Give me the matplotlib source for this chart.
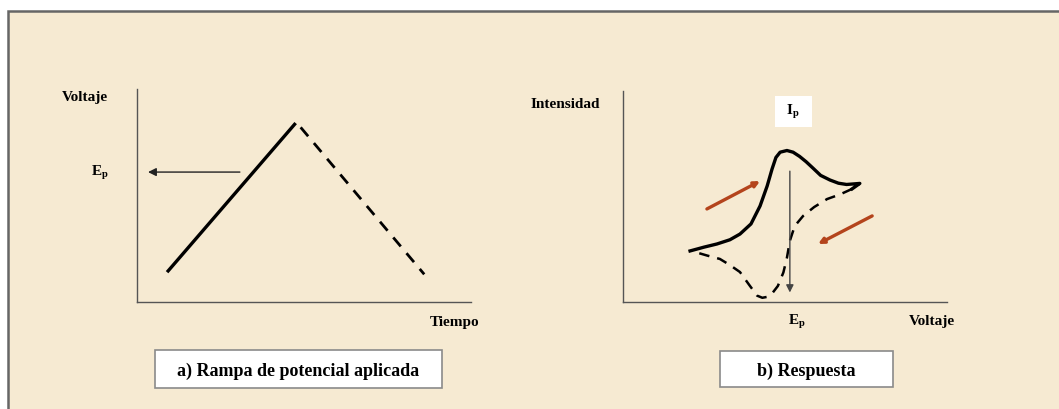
import matplotlib.pyplot as plt
from matplotlib.patches import Rectangle

plt.rcParams['font.family'] = ['Liberation Serif', 'DejaVu Serif']
plt.rcParams['font.weight'] = 'bold'
plt.rcParams['mathtext.fontset'] = 'custom'
plt.rcParams['mathtext.rm'] = 'Liberation Serif:bold'
plt.rcParams['mathtext.it'] = 'Liberation Serif:bold'

# a) rampa de potencial (tiempo, voltaje)
t_subida = [0.9, 4.75]
v_subida = [1.4, 8.4]
t_bajada = [4.9, 8.6]
v_bajada = [8.2, 1.3]
ep_rampa = 6.1

# b) respuesta (voltaje, intensidad)
v_ida = [2.07, 2.5, 2.9, 3.3, 3.61, 3.95, 4.23, 4.45, 4.6, 4.72, 4.85, 5.06, 5.25, 5.45,
         5.65, 5.86, 6.1, 6.39, 6.65, 6.9, 7.15, 7.31, 7.07]
i_ida = [2.42, 2.6, 2.75, 2.95, 3.22, 3.7, 4.55, 5.5, 6.3, 6.85, 7.1, 7.18, 7.1, 6.9,
         6.65, 6.35, 6.0, 5.78, 5.63, 5.57, 5.6, 5.62, 5.36]
v_vuelta = [7.07, 6.7, 6.3, 5.9, 5.56, 5.3, 5.15, 5.06, 4.95, 4.78, 4.6, 4.44, 4.3, 4.14,
            3.9, 3.61, 3.3, 2.99, 2.6, 2.22]
i_vuelta = [5.36, 5.1, 4.88, 4.5, 4.08, 3.6, 2.9, 2.1, 1.4, 0.76, 0.4, 0.24, 0.2, 0.3,
            0.8, 1.42, 1.75, 2.04, 2.2, 2.37]
ep_resp = 5.15
ip_resp = 6.2

fondo = '#f6ead2'
W, H = 1059, 410
fig = plt.figure(figsize=(W / 100, H / 100), dpi=100, facecolor='white')

# marco y cajas de texto en pixeles
bg = fig.add_axes([0, 0, 1, 1])
bg.set_xlim(0, W)
bg.set_ylim(H, 0)
bg.axis('off')
bg.add_patch(Rectangle((8, 12), W, H, facecolor=fondo, edgecolor='#666666', lw=1.8))
bg.add_patch(Rectangle((155, 351), 287, 38, facecolor='white', edgecolor='#8a8a8a', lw=1.2))
bg.text(298.5, 371, 'a) Rampa de potencial aplicada', ha='center', va='center', fontsize=13)
bg.add_patch(Rectangle((720, 352), 173, 36, facecolor='white', edgecolor='#8a8a8a', lw=1.2))
bg.text(806.5, 371, 'b) Respuesta', ha='center', va='center', fontsize=13)
bg.add_patch(Rectangle((775, 97), 37, 31, facecolor='white', edgecolor='none'))


def ejes(pos):
    ax = fig.add_axes(pos)
    ax.set_xlim(0, 10)
    ax.set_ylim(0, 10)
    ax.patch.set_visible(False)
    for s in ['top', 'right']:
        ax.spines[s].set_visible(False)
    for s in ['left', 'bottom']:
        ax.spines[s].set_color('#555555')
        ax.spines[s].set_linewidth(1.0)
    ax.set_xticks([])
    ax.set_yticks([])
    return ax


# panel a
ax1 = ejes([137 / W, 1 - 303 / H, 334 / W, 213 / H])
ax1.plot(t_subida, v_subida, color='black', lw=2.4, solid_capstyle='butt')
ax1.plot(t_bajada, v_bajada, color='black', lw=2.0, ls=(0, (4.2, 3.2)))
ax1.annotate('', xy=(0.33, ep_rampa), xytext=(3.08, ep_rampa),
             arrowprops=dict(arrowstyle='-|>', color='#222222', lw=1.0,
                             mutation_scale=12, shrinkA=0, shrinkB=0))
ax1.text(-1.1, ep_rampa, r'$\mathrm{E_p}$', ha='center', va='center', fontsize=11, clip_on=False)
ax1.text(-1.55, 9.65, 'Voltaje', ha='center', va='center', fontsize=11, clip_on=False)
ax1.text(9.5, -0.9, 'Tiempo', ha='center', va='center', fontsize=11, clip_on=False)

# panel b
ax2 = ejes([623 / W, 1 - 303 / H, 324 / W, 211 / H])
ax2.plot(v_ida, i_ida, color='black', lw=2.4, solid_joinstyle='round')
ax2.plot(v_vuelta, i_vuelta, color='black', lw=1.8, ls=(0, (4.2, 3.2)))
ax2.annotate('', xy=(ep_resp, 0.45), xytext=(ep_resp, ip_resp),
             arrowprops=dict(arrowstyle='-|>', color='#444444', lw=1.0,
                             mutation_scale=11, shrinkA=0, shrinkB=0))
ax2.annotate('', xy=(4.23, 5.73), xytext=(2.59, 4.41),
             arrowprops=dict(arrowstyle='-|>', color='#b4441c', lw=2.4,
                             mutation_scale=8, shrinkA=0, shrinkB=0))
ax2.annotate('', xy=(6.02, 2.75), xytext=(7.69, 4.08),
             arrowprops=dict(arrowstyle='-|>', color='#b4441c', lw=2.4,
                             mutation_scale=8, shrinkA=0, shrinkB=0))
ax2.text(5.25, 9.05, r'$\mathrm{I_p}$', ha='center', va='center', fontsize=11, clip_on=False)
ax2.text(5.37, -0.9, r'$\mathrm{E_p}$', ha='center', va='center', fontsize=11, clip_on=False)
ax2.text(-1.79, 9.4, 'Intensidad', ha='center', va='center', fontsize=11, clip_on=False)
ax2.text(9.54, -0.9, 'Voltaje', ha='center', va='center', fontsize=11, clip_on=False)

fig.savefig('out.png', dpi=100, facecolor='white')
